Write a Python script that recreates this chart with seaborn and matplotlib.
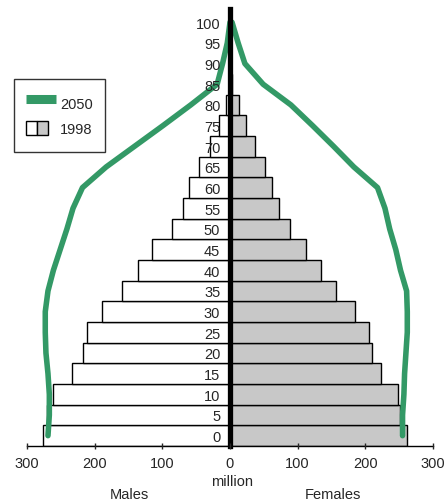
import numpy as np
import pandas as pd
import matplotlib
matplotlib.use("Agg")
import matplotlib.pyplot as plt
import seaborn as sns
from matplotlib.lines import Line2D
from matplotlib.patches import Patch, Rectangle
from matplotlib.legend_handler import HandlerBase

# age groups (lower bound of each 5-year band)
ages = [0, 5, 10, 15, 20, 25, 30, 35, 40, 45, 50, 55, 60, 65, 70, 75, 80, 85, 90, 95, 100]
age_labels = [str(a) for a in ages]

# population in millions
males_1998 = [277, 270, 261, 233, 217, 212, 189, 159, 136, 115, 85, 69, 60, 46, 30, 16, 6, 2, 0, 0, 0]
females_1998 = [262, 251, 249, 223, 210, 205, 184, 157, 134, 113, 88, 72, 62, 51, 37, 24, 14, 3, 0, 0, 0]
males_2050 = [269, 267, 267, 269, 272, 273, 273, 269, 261, 251, 241, 232, 218, 183, 141, 99, 58, 19, 11, 4, 0]
females_2050 = [255, 255, 257, 258, 260, 262, 262, 261, 252, 245, 236, 229, 218, 183, 153, 122, 90, 49, 22, 12, 3]

x_ticks = [-300, -200, -100, 0, 100, 200, 300]
x_tick_labels = ["300", "200", "100", "0", "100", "200", "300"]

green = "#339966"
gray = "#c8c8c8"


class SplitBox(HandlerBase):
    # white/grey half boxes used for the 1998 entry
    def create_artists(self, legend, orig_handle, xdescent, ydescent,
                       width, height, fontsize, trans):
        w, h = 16, 9.5
        x0 = -xdescent
        y0 = -ydescent + (height - h) / 2
        left = Rectangle((x0, y0), w / 2, h, facecolor="white", edgecolor="black",
                         linewidth=1, transform=trans)
        right = Rectangle((x0 + w / 2, y0), w / 2, h, facecolor=gray, edgecolor="black",
                          linewidth=1, transform=trans)
        return [left, right]


sns.set_style("white")
plt.rcParams["font.family"] = ["Liberation Sans", "DejaVu Sans"]

df = pd.DataFrame({
    "age": ages,
    "males": -np.array(males_1998),
    "females": females_1998,
    "males_2050": -np.array(males_2050),
    "females_2050": females_2050,
})

fig = plt.figure(figsize=(4.47, 5.02), dpi=100)
ax = fig.add_axes([27 / 447, 55 / 502, 406 / 447, 437 / 502])

sns.barplot(data=df, x="males", y="age", orient="y", native_scale=True, width=1,
            color="white", saturation=1, edgecolor="black", linewidth=1, ax=ax)
sns.barplot(data=df, x="females", y="age", orient="y", native_scale=True, width=1,
            color=gray, saturation=1, edgecolor="black", linewidth=1, ax=ax)

sns.lineplot(data=df, x="males_2050", y="age", sort=False, orient="y",
             color=green, linewidth=4, ax=ax)
sns.lineplot(data=df, x="females_2050", y="age", sort=False, orient="y",
             color=green, linewidth=4, ax=ax)

ax.set_xlim(-300, 300)
ax.set_ylim(-2.5, 103.2)
ax.set_xlabel("")
ax.set_ylabel("")
ax.set_axisbelow(False)

# thick centre line with the age labels beside it
ax.spines["left"].set_position(("data", 0))
ax.spines["left"].set_linewidth(3.8)
ax.spines["left"].set_color("black")
ax.spines["top"].set_visible(False)
ax.spines["right"].set_visible(False)
ax.spines["bottom"].set_color("black")
ax.spines["bottom"].set_linewidth(1)

ax.set_yticks(ages)
ax.set_yticklabels(age_labels)
ax.tick_params(axis="y", length=0, pad=7, labelsize=10.5)

ax.set_xticks(x_ticks)
ax.set_xticklabels(x_tick_labels)
ax.tick_params(axis="x", direction="inout", length=5, width=1, pad=5,
               labelsize=10.5, bottom=True)

handles = [Line2D([], [], color=green, linewidth=6.5, solid_capstyle="butt"),
           Patch(facecolor=gray)]
leg = ax.legend(handles, ["2050", "1998"],
                handler_map={Patch: SplitBox()},
                loc="upper left", bbox_to_anchor=(14 / 447, 1 - 80 / 502),
                bbox_transform=fig.transFigure, borderaxespad=0,
                frameon=True, fancybox=False, framealpha=1, edgecolor="#333333",
                fontsize=10.5, handlelength=2.06, handleheight=2.25,
                handletextpad=0.3, labelspacing=0.0, borderpad=0.8)
leg.get_frame().set_linewidth(1)

fig.text(232 / 447, 1 - 482 / 502, "million", ha="center", va="center", fontsize=10.5)
fig.text(129.5 / 447, 1 - 495 / 502, "Males", ha="center", va="center", fontsize=10.5)
fig.text(333 / 447, 1 - 495 / 502, "Females", ha="center", va="center", fontsize=10.5)

fig.savefig("out.png", dpi=100)
